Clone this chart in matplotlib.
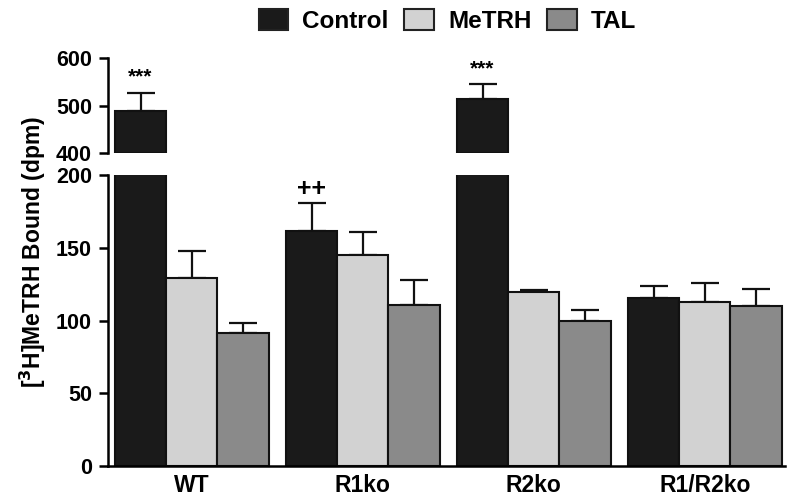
import matplotlib
matplotlib.use("Agg")
import matplotlib.pyplot as plt
import numpy as np
from matplotlib.patches import Patch

plt.rcParams['font.family'] = ['Liberation Sans', 'DejaVu Sans']
plt.rcParams['font.weight'] = 'bold'

groups = ["WT", "R1ko", "R2ko", "R1/R2ko"]
series = ["Control", "MeTRH", "TAL"]
control = [488, 161.5, 514, 115.5]
control_err = [40, 19.5, 31, 8.5]
metrh = [129, 145, 119.6, 113]
metrh_err = [19, 16, 1.5, 13]
tal = [91.4, 111, 100, 110]
tal_err = [7, 17, 7, 12]
annotations = ["***", "++", "***", ""]

colors = ["#1a1a1a", "#d2d2d2", "#8a8a8a"]
values = [control, metrh, tal]
errors = [control_err, metrh_err, tal_err]

fig = plt.figure(figsize=(7.92, 4.99), dpi=100)
ax_lo = fig.add_axes([0.1364, 0.0661, 0.855, 0.583])
ax_hi = fig.add_axes([0.1364, 0.693, 0.855, 0.190])

x = np.arange(len(groups))
w = 0.3
offsets = [-w, 0, w]
brk = 400

for vals, errs, col, off in zip(values, errors, colors, offsets):
    vals = np.array(vals, dtype=float)
    errs = np.array(errs, dtype=float)
    ax_lo.bar(x + off, vals, width=w, color=col, edgecolor="#111111", linewidth=1.5, zorder=2)
    low_mask = vals < 200
    ax_lo.errorbar(x[low_mask] + off, vals[low_mask],
                   yerr=[np.zeros(low_mask.sum()), errs[low_mask]],
                   fmt="none", ecolor="#111111", elinewidth=1.6, capsize=10, capthick=1.6, zorder=1)
    hi_mask = vals > brk
    if hi_mask.any():
        ax_hi.bar(x[hi_mask] + off, vals[hi_mask] - brk, bottom=brk, width=w, color=col,
                  edgecolor="#111111", linewidth=1.5, zorder=2)
        ax_hi.errorbar(x[hi_mask] + off, vals[hi_mask],
                       yerr=[np.zeros(hi_mask.sum()), errs[hi_mask]],
                       fmt="none", ecolor="#111111", elinewidth=1.6, capsize=10, capthick=1.6, zorder=1)

# significance markers
for i, (txt, v, e) in enumerate(zip(annotations, control, control_err)):
    if not txt:
        continue
    top = v + e
    if v > brk:
        ax_hi.text(x[i] - w, top + 12, txt, ha="center", va="bottom", fontsize=15, fontweight="bold")
    else:
        ax_lo.text(x[i] - w, top + 1, txt, ha="center", va="bottom", fontsize=18, fontweight="bold")

xlim = (-0.49, 3.47)
for ax in (ax_lo, ax_hi):
    ax.set_xlim(*xlim)
    ax.spines['top'].set_visible(False)
    ax.spines['right'].set_visible(False)
    ax.spines['left'].set_linewidth(1.8)
    ax.tick_params(axis='y', direction='out', length=6.5, width=1.8, labelsize=15.5, pad=5)
    for lab in ax.get_yticklabels():
        lab.set_fontweight('bold')

ax_lo.set_ylim(0, 200)
ax_lo.set_yticks([0, 50, 100, 150, 200])
ax_lo.spines['bottom'].set_linewidth(1.8)
ax_lo.set_xticks(x)
ax_lo.set_xticklabels(groups, fontsize=16.5, fontweight='bold')
ax_lo.tick_params(axis='x', length=0, pad=6)

ax_hi.set_ylim(400, 600)
ax_hi.set_yticks([400, 500, 600])
ax_hi.spines['bottom'].set_visible(False)
ax_hi.set_xticks([])

fig.text(0.042, 0.495, "[$^\\mathbf{3}$H]MeTRH Bound (dpm)", rotation=90, ha="center", va="center",
         fontsize=16.5, fontweight="bold")

handles = [Patch(facecolor=c, edgecolor="#222222", linewidth=1.5) for c in colors]
fig.legend(handles, series, loc="upper center", bbox_to_anchor=(0.565, 1.012), ncol=3, frameon=False,
           handlelength=1.2, handleheight=1.0, columnspacing=0.65, handletextpad=0.6,
           borderaxespad=0.2, prop={'weight': 'bold', 'size': 17.5})

fig.savefig("out.png", dpi=100)
